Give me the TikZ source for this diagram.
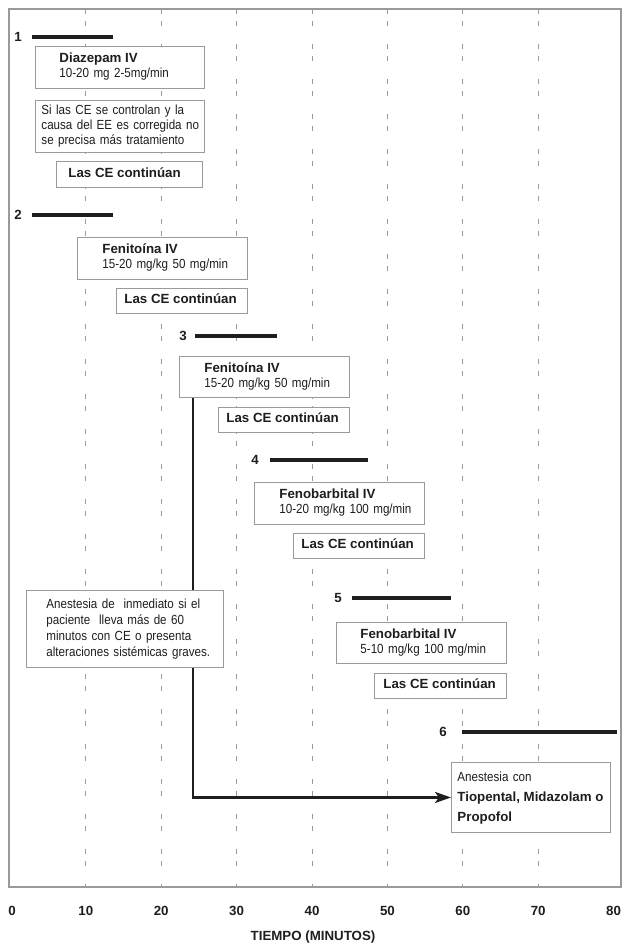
\documentclass[tikz,border=0pt]{standalone}
\usepackage{fontspec}
\setmainfont{Liberation Sans}[UprightFeatures={FakeStretch=0.88}]
\usetikzlibrary{arrows.meta}
% lines of a box, set flush left after an indent of #1pt
\newcommand\btext[2]{\hspace*{#1pt}\begin{tabular}{@{}l@{}}#2\end{tabular}}
% regular box text with line distance #1pt and narrow word spaces
\newcommand\regtext[1]{\fontsize{13.2}{#1}\selectfont\spaceskip=2.9pt plus 1pt minus 0.5pt\relax}
% bold heading line inside a box
\newcommand\hd[1]{{\fontsize{13.3}{15}\selectfont\bfseries\spaceskip=0pt\relax #1}}
\definecolor{ink}{HTML}{1E1E1E}
\definecolor{rulegray}{HTML}{9A9A9A}
\begin{document}
\begin{tikzpicture}[x=1pt,y=-1pt,
  box/.style={font=\regtext{15}, text=ink, draw=rulegray, fill=white, line width=0.9pt,
    anchor=north west, align=left, inner xsep=0pt, inner ysep=0pt},
  gridline/.style={draw=rulegray, line width=0.7pt, dash pattern=on 5pt off 7pt on 5pt off 18pt},
  bar/.style={draw=ink, line width=4pt},
  num/.style={font=\fontsize{13.3}{15}\selectfont\bfseries, text=ink, inner sep=0pt},
  flow/.style={draw=ink, line width=2.4pt, -{Stealth[length=16pt,width=11pt,inset=4pt]}},
]
\useasboundingbox (0,0) rectangle (626,945);
\fill[white] (0,0) rectangle (626,945);

% time grid every 10 minutes
\foreach \k in {1,...,7}
  \draw[gridline] ({10.4+75.4*\k},9) -- ({10.4+75.4*\k},887);
% chart frame
\draw[rulegray, line width=1.2pt] (9,9) rectangle (621,887);

% step 1
\node[num, anchor=east] (n1) at (22,37) {1};
\draw[bar] (32,37) -- (113,37);
\node[box, text width=169, minimum height=42] (diaz) at (35,46)
  {\btext{24}{\hd{Diazepam IV}\\10-20 mg 2-5mg/min}};
\node[box, text width=169, minimum height=52] (cond) at (35,100)
  {\btext{6}{Si las CE se controlan y la\\causa del EE es corregida no\\se precisa más tratamiento}};
\node[box, text width=146, minimum height=26] (ce1) at (56,161)
  {\btext{12}{\hd{Las CE continúan}}};

% step 2
\node[num, anchor=east] (n2) at (22,215) {2};
\draw[bar] (32,215) -- (113,215);
\node[box, text width=170, minimum height=42] (fen1) at (77,237)
  {\btext{25}{\hd{Fenitoína IV}\\15-20 mg/kg 50 mg/min}};
\node[box, text width=131, minimum height=25] (ce2) at (116,288)
  {\btext{8}{\hd{Las CE continúan}}};

% step 3
\node[num, anchor=east] (n3) at (187,336) {3};
\draw[bar] (195,336) -- (277,336);
\node[box, text width=170, minimum height=41] (fen2) at (179,356)
  {\btext{25}{\hd{Fenitoína IV}\\15-20 mg/kg 50 mg/min}};
\node[box, text width=131, minimum height=25] (ce3) at (218,407)
  {\btext{8}{\hd{Las CE continúan}}};

% step 4
\node[num, anchor=east] (n4) at (259,460) {4};
\draw[bar] (270,460) -- (368,460);
\node[box, text width=170, minimum height=42] (fenb1) at (254,482)
  {\btext{25}{\hd{Fenobarbital IV}\\10-20 mg/kg 100 mg/min}};
\node[box, text width=131, minimum height=25] (ce4) at (293,533)
  {\btext{8}{\hd{Las CE continúan}}};

% step 5
\node[num, anchor=east] (n5) at (342,598) {5};
\draw[bar] (352,598) -- (451,598);
\node[box, text width=170, minimum height=41] (fenb2) at (336,622)
  {\btext{24}{\hd{Fenobarbital IV}\\5-10 mg/kg 100 mg/min}};
\node[box, text width=132, minimum height=25] (ce5) at (374,673)
  {\btext{9}{\hd{Las CE continúan}}};

% step 6
\node[num, anchor=east] (n6) at (447,732) {6};
\draw[bar] (462,732) -- (617,732);
\node[box, text width=159, minimum height=70, font=\regtext{20}] (anesR) at (451,762)
  {\btext{6}{Anestesia con\\\hd{Tiopental, Midazolam o}\\\hd{Propofol}}};

% shortcut to anaesthesia
\coordinate (armtop) at ([xshift=14pt]fen2.south west);
\draw[flow] (armtop) |- (anesR.west);
\node[box, text width=197, minimum height=77, font=\regtext{16}] (anesL) at (26,590)
  {\btext{20}{Anestesia de~ inmediato si el\\paciente~ lleva más de 60\\minutos con CE o presenta\\alteraciones sistémicas graves.}};

% time axis
\node[num] (t0) at (12,911) {0};
\foreach \k in {1,...,8}
  \node[num] (t\k) at ({10.4+75.4*\k},911) {\the\numexpr\k*10\relax};
\node[num] (axis) at (313,937) {TIEMPO (MINUTOS)};
\end{tikzpicture}
\end{document}
